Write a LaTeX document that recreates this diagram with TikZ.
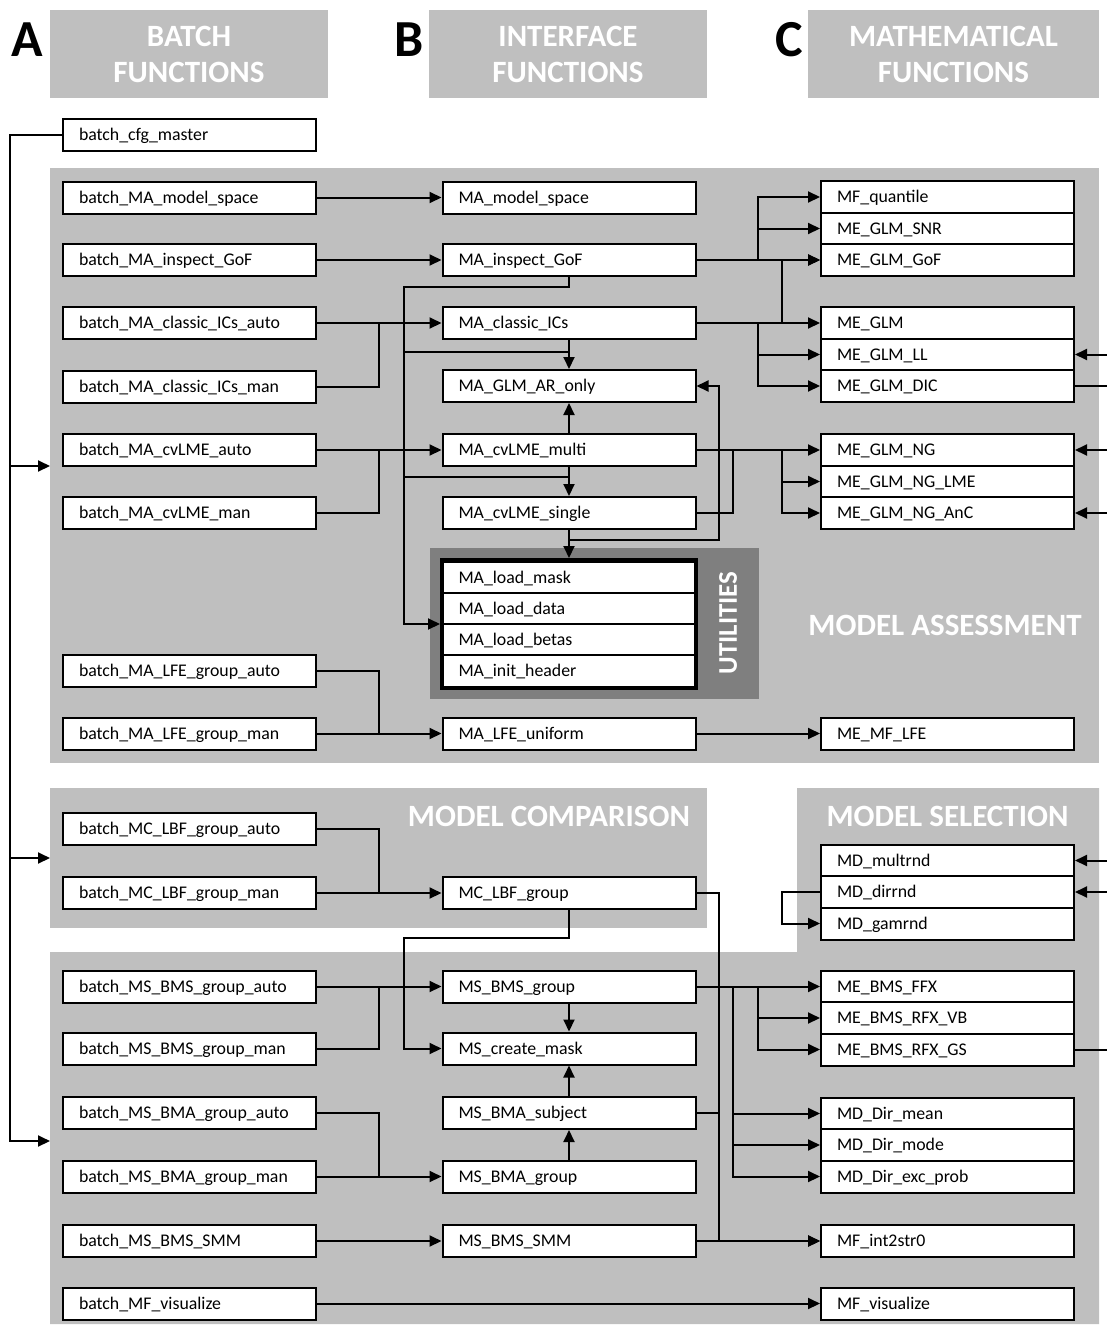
\documentclass[tikz,border=0pt]{standalone}
\usepackage{fontspec}
\setmainfont{Carlito}
\usetikzlibrary{arrows.meta,calc}
\definecolor{panelgray}{HTML}{BFBFBF}
\definecolor{utilgray}{HTML}{7F7F7F}
\begin{document}
\begin{tikzpicture}[x=1pt,y=-1pt,
  fbox/.style={draw=black, fill=white, line width=2pt, minimum height=32pt,
    text width=221pt, inner xsep=16pt, inner ysep=0pt, align=left,
    text height=14pt, text depth=3pt, font=\fontsize{17.8}{20}\selectfont},
  hdr/.style={fill=panelgray, minimum height=88pt, inner sep=0pt, align=center,
    text=white, font=\bfseries\fontsize{31}{36}\selectfont},
  letter/.style={font=\bfseries\fontsize{52}{52}\selectfont, inner sep=0pt},
  panel/.style={fill=panelgray, inner sep=0pt},
  plabel/.style={text=white, font=\bfseries\fontsize{31}{32}\selectfont, inner sep=0pt},
  conn/.style={line width=2pt},
  arr/.style={line width=2pt, -{Triangle[length=12pt,width=11pt]}}
]
\useasboundingbox (0,0) rectangle (1107,1325);

% ---------- headers ----------
\node[letter] (lA) at (27.5,40) {A};
\node[letter] (lB) at (409,40) {B};
\node[letter] (lC) at (789.5,40) {C};
\node[hdr, minimum width=278pt] (hA) at (189,54) {BATCH\\FUNCTIONS};
\node[hdr, minimum width=278pt] (hB) at (568,54) {INTERFACE\\FUNCTIONS};
\node[hdr, minimum width=291pt] (hC) at (953.5,54) {MATHEMATICAL\\FUNCTIONS};

% ---------- panels ----------
\node[panel, minimum width=1049pt, minimum height=595pt] (maP) at (574.5,465.5) {};
\node[panel, minimum width=657pt, minimum height=140pt] (mcP) at (378.5,858) {};
\fill[panelgray] (797,788) -- (1099,788) -- (1099,1324) -- (50,1324) -- (50,952) -- (797,952) -- cycle;
\node[panel, fill=utilgray, minimum width=329pt, minimum height=151pt] (uP) at (594.5,623.5) {};

\node[plabel] (tMA) at (945,625) {MODEL ASSESSMENT};
\node[plabel] (tMC) at (549,816) {MODEL COMPARISON};
\node[plabel] (tMS) at (947.5,816) {MODEL SELECTION};
\node[plabel, rotate=90, font=\bfseries\fontsize{27}{28}\selectfont] (tU) at (728,623) {UTILITIES};

% ---------- bus coordinates ----------
\coordinate (x0) at (10,0);
\coordinate (xA) at (379,0);
\coordinate (xL) at (404,0);
\coordinate (xR1) at (719,0);
\coordinate (xR2) at (733,0);
\coordinate (xC1) at (758,0);
\coordinate (xC2) at (782,0);
\coordinate (rE) at (1107,0);
\coordinate (maIn) at (50,466);
\coordinate (mcIn) at (50,858);
\coordinate (msIn) at (50,1141);

% ---------- column A ----------
\node[fbox] (bcfg)   at (189.5,134.5) {batch\_cfg\_master};
\node[fbox] (bMAms)  at (189.5,197.5) {batch\_MA\_model\_space};
\node[fbox] (bMAgof) at (189.5,260)   {batch\_MA\_inspect\_GoF};
\node[fbox] (bMAica) at (189.5,323)   {batch\_MA\_classic\_ICs\_auto};
\node[fbox] (bMAicm) at (189.5,386.5) {batch\_MA\_classic\_ICs\_man};
\node[fbox] (bMAcva) at (189.5,450)   {batch\_MA\_cvLME\_auto};
\node[fbox] (bMAcvm) at (189.5,513)   {batch\_MA\_cvLME\_man};
\node[fbox] (bMAlfa) at (189.5,670.5) {batch\_MA\_LFE\_group\_auto};
\node[fbox] (bMAlfm) at (189.5,733.5) {batch\_MA\_LFE\_group\_man};
\node[fbox] (bMCa)   at (189.5,829)   {batch\_MC\_LBF\_group\_auto};
\node[fbox] (bMCm)   at (189.5,893)   {batch\_MC\_LBF\_group\_man};
\node[fbox] (bMSbsa) at (189.5,986.5) {batch\_MS\_BMS\_group\_auto};
\node[fbox] (bMSbsm) at (189.5,1049)  {batch\_MS\_BMS\_group\_man};
\node[fbox] (bMSbaa) at (189.5,1113)  {batch\_MS\_BMA\_group\_auto};
\node[fbox] (bMSbam) at (189.5,1176.5){batch\_MS\_BMA\_group\_man};
\node[fbox] (bMSsmm) at (189.5,1241)  {batch\_MS\_BMS\_SMM};
\node[fbox] (bMFvis) at (189.5,1303.5){batch\_MF\_visualize};

% ---------- column B ----------
\node[fbox] (MAms)  at (569,197.5) {MA\_model\_space};
\node[fbox] (MAgof) at (569,260)   {MA\_inspect\_GoF};
\node[fbox] (MAics) at (569,323)   {MA\_classic\_ICs};
\node[fbox] (MAar)  at (569,386)   {MA\_GLM\_AR\_only};
\node[fbox] (MAcvm) at (569,450)   {MA\_cvLME\_multi};
\node[fbox] (MAcvs) at (569,513)   {MA\_cvLME\_single};
\node[fbox] (ulm)   at (569,577.5) {MA\_load\_mask};
\node[fbox] (uld)   at (569,608.5) {MA\_load\_data};
\node[fbox] (ulb)   at (569,639.5) {MA\_load\_betas};
\node[fbox] (uih)   at (569,670.5) {MA\_init\_header};
\node[draw, line width=4pt, minimum width=254pt, minimum height=128pt, inner sep=0pt] (uframe) at (569,624) {};
\node[fbox] (MAlfe) at (569,733.5) {MA\_LFE\_uniform};
\node[fbox] (MClbf) at (569,893)   {MC\_LBF\_group};
\node[fbox] (MSbms) at (569,986.5) {MS\_BMS\_group};
\node[fbox] (MScm)  at (569,1048.5){MS\_create\_mask};
\node[fbox] (MSbas) at (569,1113)  {MS\_BMA\_subject};
\node[fbox] (MSbag) at (569,1176.5){MS\_BMA\_group};
\node[fbox] (MSsmm) at (569,1241)  {MS\_BMS\_SMM};

% ---------- column C ----------
\node[fbox] (MFq)    at (947.5,197)   {MF\_quantile};
\node[fbox] (MEsnr)  at (947.5,228.5) {ME\_GLM\_SNR};
\node[fbox] (MEgof)  at (947.5,260)   {ME\_GLM\_GoF};
\node[fbox] (MEglm)  at (947.5,323)   {ME\_GLM};
\node[fbox] (MEll)   at (947.5,354.5) {ME\_GLM\_LL};
\node[fbox] (MEdic)  at (947.5,386)   {ME\_GLM\_DIC};
\node[fbox] (MEng)   at (947.5,450)   {ME\_GLM\_NG};
\node[fbox] (MElme)  at (947.5,481.5) {ME\_GLM\_NG\_LME};
\node[fbox] (MEanc)  at (947.5,513)   {ME\_GLM\_NG\_AnC};
\node[fbox] (MEmf)   at (947.5,733.5) {ME\_MF\_LFE};
\node[fbox] (MDmult) at (947.5,860.5) {MD\_multrnd};
\node[fbox] (MDdir)  at (947.5,892)   {MD\_dirrnd};
\node[fbox] (MDgam)  at (947.5,923.5) {MD\_gamrnd};
\node[fbox] (MEffx)  at (947.5,986.5) {ME\_BMS\_FFX};
\node[fbox] (MEvb)   at (947.5,1018)  {ME\_BMS\_RFX\_VB};
\node[fbox] (MEgs)   at (947.5,1049.5){ME\_BMS\_RFX\_GS};
\node[fbox] (MDmean) at (947.5,1113.5){MD\_Dir\_mean};
\node[fbox] (MDmode) at (947.5,1145)  {MD\_Dir\_mode};
\node[fbox] (MDexc)  at (947.5,1176.5){MD\_Dir\_exc\_prob};
\node[fbox] (MFi2s)  at (947.5,1241)  {MF\_int2str0};
\node[fbox] (MFvis)  at (947.5,1303.5){MF\_visualize};

% ---------- junction coordinates ----------
\coordinate (jIC) at ($(MAics.south)+(0,12)$);
\coordinate (jCV) at ($(MAcvm.south)+(0,10)$);
\coordinate (jCS) at ($(MAcvs.south)+(0,10)$);

% ---------- left bus ----------
\draw[arr] (bcfg.west) -| (x0 |- msIn) -- (msIn);
\draw[arr] (x0 |- maIn) -- (maIn);
\draw[arr] (x0 |- mcIn) -- (mcIn);

% ---------- model assessment ----------
\draw[arr] (bMAms.east) -- (MAms.west);
\draw[arr] (bMAgof.east) -- (MAgof.west);
\draw[arr] (bMAica.east) -- (MAics.west);
\draw[conn] (bMAicm.east) -| (xA |- bMAica.east);
\draw[arr] (bMAcva.east) -- (MAcvm.west);
\draw[conn] (bMAcvm.east) -| (xA |- bMAcva.east);
\draw[arr] (bMAlfm.east) -- (MAlfe.west);
\draw[conn] (bMAlfa.east) -| (xA |- bMAlfm.east);

\draw[arr] (MAgof.south) -- ++(0,10) -| (xL |- uframe.west) -- (uframe.west);
\draw[arr] (MAics.south) -- (MAar.north);
\draw[conn] (jIC) -- (xL |- jIC);
\draw[arr] (MAcvm.north) -- (MAar.south);
\draw[arr] (MAcvm.south) -- (MAcvs.north);
\draw[conn] (jCV) -- (xL |- jCV);
\draw[arr] (MAcvs.south) -- (uframe.north);
\draw[arr] (jCS) -| (xR1 |- MAar.east) -- (MAar.east);
\draw[conn] (MAcvs.east) -| (xR2 |- MAcvm.east);

\draw[arr] (MAgof.east) -- (MEgof.west);
\draw[arr] (xC1 |- MAgof.east) |- (MFq.west);
\draw[arr] (xC1 |- MAgof.east) |- (MEsnr.west);
\draw[arr] (MAics.east) -- (MEglm.west);
\draw[arr] (xC2 |- MAics.east) |- (MEgof.west);
\draw[arr] (xC1 |- MAics.east) |- (MEll.west);
\draw[arr] (xC1 |- MAics.east) |- (MEdic.west);
\draw[arr] (MAcvm.east) -- (MEng.west);
\draw[arr] (xC2 |- MAcvm.east) |- (MElme.west);
\draw[arr] (xC2 |- MAcvm.east) |- (MEanc.west);
\draw[arr] (MAlfe.east) -- (MEmf.west);

\draw[arr] (rE |- MEll.east) -- (MEll.east);
\draw[conn] (MEdic.east) -- (rE |- MEdic.east);
\draw[arr] (rE |- MEng.east) -- (MEng.east);
\draw[arr] (rE |- MEanc.east) -- (MEanc.east);

% ---------- model comparison ----------
\draw[arr] (bMCm.east) -- (MClbf.west);
\draw[conn] (bMCa.east) -| (xA |- bMCm.east);
\draw[arr] (MClbf.south) -- ++(0,28) -| (xL |- MScm.west) -- (MScm.west);
\draw[arr] (MClbf.east) -| (xR1 |- MFi2s.west) -- (MFi2s.west);

% ---------- model selection ----------
\draw[arr] (rE |- MDmult.east) -- (MDmult.east);
\draw[arr] (rE |- MDdir.east) -- (MDdir.east);
\draw[arr] (MDdir.west) -| (xC2 |- MDgam.west) -- (MDgam.west);

\draw[arr] (bMSbsa.east) -- (MSbms.west);
\draw[conn] (bMSbsm.east) -| (xA |- bMSbsa.east);
\draw[arr] (bMSbam.east) -- (MSbag.west);
\draw[conn] (bMSbaa.east) -| (xA |- bMSbam.east);
\draw[arr] (bMSsmm.east) -- (MSsmm.west);
\draw[arr] (bMFvis.east) -- (MFvis.west);

\draw[arr] (MSbms.south) -- (MScm.north);
\draw[arr] (MSbas.north) -- (MScm.south);
\draw[arr] (MSbag.north) -- (MSbas.south);

\draw[arr] (MSbms.east) -- (MEffx.west);
\draw[arr] (xC1 |- MSbms.east) |- (MEvb.west);
\draw[arr] (xC1 |- MSbms.east) |- (MEgs.west);
\draw[arr] (xR2 |- MSbms.east) |- (MDmean.west);
\draw[arr] (xR2 |- MSbms.east) |- (MDmode.west);
\draw[arr] (xR2 |- MSbms.east) |- (MDexc.west);
\draw[conn] (MSbas.east) -- (xR1 |- MSbas.east);
\draw[arr] (MSsmm.east) -- (MFi2s.west);
\draw[conn] (MEgs.east) -- (rE |- MEgs.east);
\end{tikzpicture}
\end{document}
